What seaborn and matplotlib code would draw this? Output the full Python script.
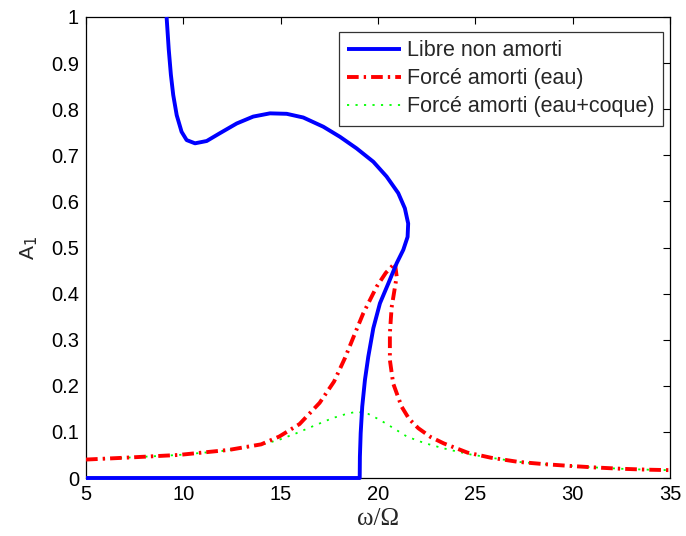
import numpy as np
import pandas as pd
import matplotlib
matplotlib.use("Agg")
import matplotlib.pyplot as plt
import seaborn as sns

# ---- data ----
libre_x = [9.14, 9.25, 9.36, 9.48, 9.66, 9.91, 10.17, 10.6, 11.2, 11.88, 12.74, 13.59,
           14.45, 15.31, 16.16, 17.19, 18.05, 18.9, 19.76, 20.44, 21.04, 21.38, 21.55,
           21.52, 21.3, 20.96, 20.53, 20.1, 19.76, 19.5, 19.33, 19.19, 19.11, 19.07,
           19.06, 5.0]
libre_y = [1.0, 0.93, 0.875, 0.831, 0.787, 0.751, 0.733, 0.726, 0.731, 0.748, 0.769, 0.784,
           0.791, 0.790, 0.782, 0.762, 0.740, 0.715, 0.686, 0.654, 0.618, 0.585, 0.552,
           0.523, 0.495, 0.466, 0.422, 0.379, 0.325, 0.263, 0.213, 0.155, 0.097, 0.046,
           0.0, 0.0]

eau_x = [5, 7, 9.76, 12.35, 14.0, 14.93, 15.97, 17.0, 17.74, 18.3, 18.82, 19.24, 19.93,
         20.4, 20.87, 20.96, 20.7, 20.61, 20.61, 20.78, 21.21, 21.6, 22.07, 22.7, 23.38,
         24.6, 25.8, 27.2, 28.55, 29.93, 31.1, 32.5, 33.9, 35]
eau_y = [0.040, 0.044, 0.050, 0.061, 0.073, 0.090, 0.117, 0.163, 0.209, 0.26, 0.314,
         0.357, 0.415, 0.445, 0.466, 0.437, 0.37, 0.314, 0.256, 0.205, 0.155, 0.128, 0.108,
         0.089, 0.075, 0.055, 0.044, 0.035, 0.030, 0.026, 0.023, 0.020, 0.018, 0.017]

coque_x = [5, 7, 9.76, 12.35, 14.0, 14.93, 15.8, 16.64, 17.67, 18.3, 18.9, 19.5, 20.1,
           20.8, 21.48, 22.17, 22.7, 23.4, 23.9, 24.76, 25.8, 27.2, 28.55, 29.93, 31.1,
           32.5, 33.9, 35]
coque_y = [0.040, 0.044, 0.050, 0.060, 0.072, 0.083, 0.097, 0.112, 0.130, 0.138, 0.144,
           0.139, 0.126, 0.108, 0.090, 0.079, 0.072, 0.064, 0.059, 0.051, 0.044, 0.035,
           0.030, 0.026, 0.023, 0.020, 0.018, 0.017]

labels = ["Libre non amorti", "Forcé amorti (eau)", "Forcé amorti (eau+coque)"]
x_ticks = [5, 10, 15, 20, 25, 30, 35]
y_ticks = [0, 0.1, 0.2, 0.3, 0.4, 0.5, 0.6, 0.7, 0.8, 0.9, 1]
y_ticklabels = ["0", "0.1", "0.2", "0.3", "0.4", "0.5", "0.6", "0.7", "0.8", "0.9", "1"]

sns.set_theme(style="white")
plt.rcParams["font.family"] = ["Liberation Sans", "DejaVu Sans"]
plt.rcParams["xtick.direction"] = "in"
plt.rcParams["ytick.direction"] = "in"

fig = plt.figure(figsize=(6.86, 5.36), dpi=100)
ax = fig.add_axes([86 / 686, 58 / 536, 584 / 686, 461 / 536])

df1 = pd.DataFrame({"x": libre_x, "y": libre_y})
df2 = pd.DataFrame({"x": eau_x, "y": eau_y})
df3 = pd.DataFrame({"x": coque_x, "y": coque_y})

sns.lineplot(data=df3, x="x", y="y", sort=False, estimator=None, ax=ax,
             color="#00ff00", lw=1.3, label=labels[2], zorder=2)
sns.lineplot(data=df2, x="x", y="y", sort=False, estimator=None, ax=ax,
             color="#ff0000", lw=2.8, label=labels[1], zorder=3)
sns.lineplot(data=df1, x="x", y="y", sort=False, estimator=None, ax=ax,
             color="#0000ff", lw=2.8, label=labels[0], zorder=4)

lines = ax.get_lines()
lines[0].set_dashes((1.2, 3.5))
lines[1].set_dashes((3.0, 1.3, 0.6, 1.3))
lines[2].set_clip_on(False)
for ln in lines:
    ln.set_solid_capstyle("butt")
    ln.set_solid_joinstyle("round")
    ln.set_dash_joinstyle("round")

ax.set_xlim(5, 35)
ax.set_ylim(0, 1)
ax.set_xticks(x_ticks)
ax.set_yticks(y_ticks)
ax.set_yticklabels(y_ticklabels)
ax.tick_params(axis="both", which="both", direction="in", length=5, width=0.8,
               top=True, right=True, labelsize=14.5, colors="black", pad=5)
for s in ax.spines.values():
    s.set_color("black")
    s.set_linewidth(0.9)
    s.set_visible(True)

ax.set_xlabel("ω/Ω", fontsize=18, family=["Liberation Serif", "DejaVu Serif"], labelpad=3)
ax.set_ylabel("A$_1$", fontsize=15, labelpad=8)

handles, labs = ax.get_legend_handles_labels()
order = [labs.index(l) for l in labels]
leg = ax.legend([handles[i] for i in order], [labs[i] for i in order],
                loc="upper right", bbox_to_anchor=(0.988, 0.9675), borderaxespad=0,
                fontsize=15.5, frameon=True, fancybox=False, edgecolor="black",
                handlelength=2.5, handletextpad=0.28, labelspacing=0.33, borderpad=0.38)
leg.get_frame().set_linewidth(0.9)

fig.savefig("out.png", dpi=100, facecolor="white")
